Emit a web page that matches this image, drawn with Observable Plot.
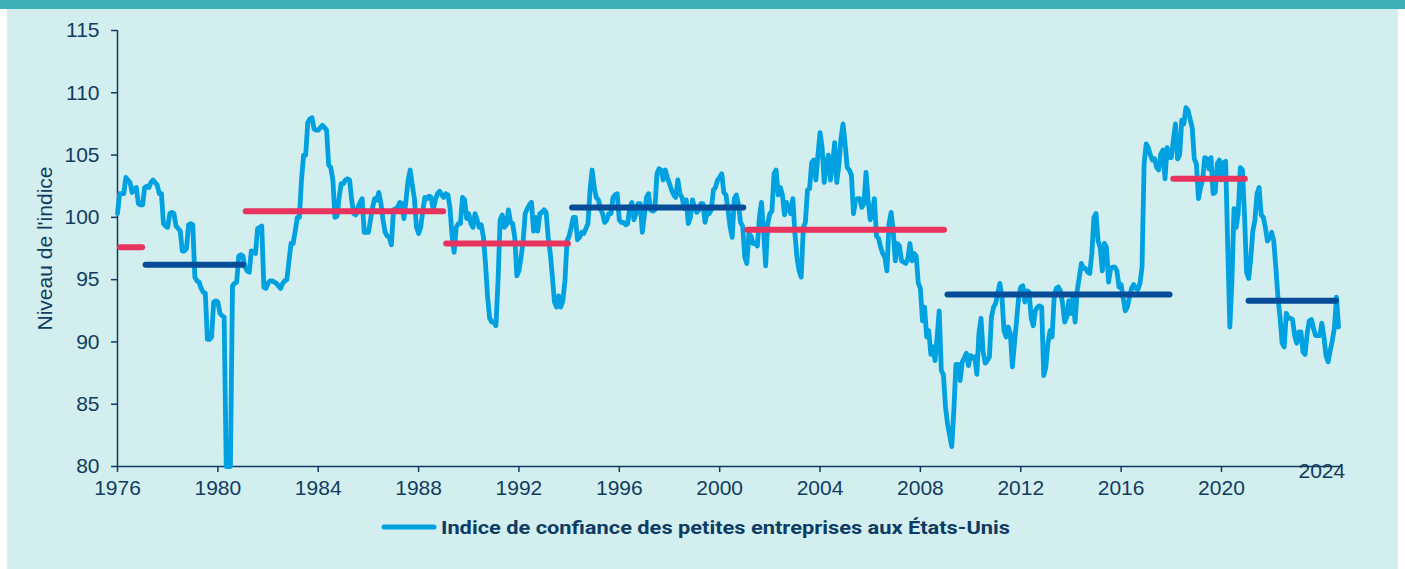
<!DOCTYPE html>
<html>
<head>
<meta charset="utf-8">
<script src="https://cdn.jsdelivr.net/npm/d3@7"></script>
<script src="https://cdn.jsdelivr.net/npm/@observablehq/plot@0.6"></script>
<style>
  html, body { margin: 0; padding: 0; background: #ffffff; width: 1405px; height: 569px; overflow: hidden; }
  #topbar { position: absolute; left: 0; top: 0; width: 1405px; height: 9px; background: #38b0b5; }
  #panel { position: absolute; left: 7px; top: 9px; width: 1391px; height: 560px; background: #d2eeee; }
  #chart { position: absolute; left: 0; top: 0; }
  #legend { position: absolute; left: 378px; top: 515px; }
</style>
</head>
<body>
<div id="topbar"></div>
<div id="panel"></div>
<div id="chart"></div>
<div id="legend"></div>
<script>
// Monthly index values, starting January 1976
const startYear = 1976;
const monthlyIndex = [
  100.3, 101.9, 101.9, 101.9, 103.2, 103.0, 102.8, 102.0, 102.3, 102.4, 101.1, 101.0, // 1976
  101.0, 102.4, 102.5, 102.4, 102.8, 103.0, 102.8, 102.6, 101.9, 101.9, 99.5, 99.3,   // 1977
  99.2, 100.3, 100.4, 100.3, 99.3, 99.1, 98.9, 97.3, 97.3, 97.5, 99.4, 99.5,          // 1978
  99.4, 95.2, 94.9, 94.8, 94.3, 94.0, 93.9, 90.2, 90.2, 90.4, 93.2, 93.3,             // 1979
  93.2, 92.3, 92.1, 92.0, 80.0, 80.0, 80.0, 94.5, 94.7, 94.8, 96.9, 97.0,             // 1980
  96.9, 96.0, 95.7, 95.6, 97.3, 97.2, 97.1, 99.1, 99.2, 99.3, 94.4, 94.3,             // 1981
  94.7, 94.9, 94.9, 94.8, 94.7, 94.5, 94.3, 94.7, 94.9, 95.0, 96.5, 97.9,             // 1982
  97.9, 98.9, 100.0, 100.0, 103.0, 105.0, 105.0, 107.6, 107.9, 108.0, 107.1, 107.0,   // 1983
  107.0, 107.2, 107.4, 107.2, 107.0, 104.2, 104.0, 103.0, 100.0, 100.1, 101.6, 102.7, // 1984
  102.7, 103.0, 103.1, 103.0, 101.4, 100.3, 100.2, 100.8, 101.2, 101.5, 98.8, 98.8,   // 1985
  98.8, 99.8, 100.8, 101.5, 101.4, 102.0, 101.1, 99.8, 98.8, 98.5, 98.4, 97.8,        // 1986
  100.6, 100.7, 100.8, 101.2, 101.1, 99.9, 101.4, 103.0, 103.8, 102.6, 101.5, 99.2,   // 1987
  98.7, 99.2, 100.5, 101.6, 101.5, 101.7, 101.6, 100.6, 101.4, 101.9, 102.1, 101.8,   // 1988
  101.6, 101.9, 101.8, 100.8, 98.5, 97.2, 99.2, 99.5, 99.5, 101.6, 101.4, 99.9,       // 1989
  100.3, 99.5, 99.2, 100.3, 99.8, 99.2, 99.4, 98.4, 96.3, 93.6, 91.9, 91.6,           // 1990
  91.6, 91.3, 94.9, 99.8, 100.2, 99.2, 99.4, 100.6, 99.6, 99.5, 98.4, 95.3,           // 1991
  95.7, 96.8, 98.1, 100.3, 100.7, 101.0, 101.2, 98.9, 100.0, 98.9, 100.3, 100.4,      // 1992
  100.6, 100.4, 98.4, 97.1, 95.2, 93.2, 92.8, 93.7, 92.8, 93.3, 94.9, 98.1,           // 1993
  98.5, 99.2, 100.0, 100.0, 98.2, 98.4, 98.8, 98.7, 99.1, 99.5, 102.2, 103.8,         // 1994
  102.4, 101.6, 101.4, 100.7, 100.3, 99.6, 99.8, 100.3, 100.3, 101.6, 101.8, 101.9,   // 1995
  99.8, 99.6, 99.6, 99.4, 99.5, 100.8, 101.2, 99.8, 100.3, 101.1, 101.1, 98.8,        // 1996
  100.2, 101.6, 101.9, 100.6, 100.5, 100.6, 103.5, 103.9, 103.8, 103.0, 103.8, 103.2, // 1997
  102.7, 102.2, 101.8, 101.6, 103.0, 101.9, 101.6, 100.7, 101.4, 99.5, 100.0, 101.4,  // 1998
  100.8, 100.4, 100.6, 101.1, 101.1, 99.6, 100.4, 100.3, 100.6, 102.2, 102.4, 103.0,  // 1999
  103.2, 103.5, 102.0, 101.8, 100.6, 99.2, 98.4, 101.5, 101.8, 101.0, 99.6, 99.3,     // 2000
  96.8, 96.3, 98.7, 98.5, 97.9, 97.9, 97.7, 100.0, 101.2, 98.9, 96.1, 99.5,           // 2001
  100.3, 100.5, 103.5, 103.8, 101.8, 102.4, 101.8, 100.2, 101.2, 100.8, 100.3, 101.5, // 2002
  98.7, 96.7, 95.7, 95.2, 99.2, 99.6, 102.2, 102.3, 104.4, 104.6, 103.0, 105.0,       // 2003
  106.8, 105.6, 102.8, 104.3, 105.0, 103.0, 104.3, 106.0, 102.8, 104.2, 106.3, 107.5, // 2004
  105.9, 104.0, 103.8, 103.4, 100.3, 101.4, 101.5, 101.5, 100.8, 101.1, 103.6, 101.4, // 2005
  99.8, 100.3, 101.5, 98.5, 98.3, 97.6, 97.1, 96.8, 95.7, 99.5, 100.4, 98.9,          // 2006
  96.5, 97.9, 97.7, 96.5, 96.4, 96.3, 96.7, 97.9, 96.5, 97.1, 96.9, 94.7,             // 2007
  94.3, 91.7, 92.8, 90.4, 90.9, 89.0, 89.6, 88.5, 90.4, 92.5, 87.7, 87.4,             // 2008
  84.8, 83.4, 82.5, 81.6, 84.5, 88.2, 88.2, 86.9, 88.4, 88.7, 89.1, 88.1,             // 2009
  88.9, 88.7, 88.8, 87.4, 90.7, 91.9, 89.2, 88.3, 88.5, 88.8, 92.0, 92.8,             // 2010
  93.1, 93.9, 94.7, 93.6, 90.9, 90.4, 91.2, 90.7, 88.0, 89.9, 91.7, 93.6,             // 2011
  94.4, 94.5, 93.2, 94.1, 94.0, 91.9, 91.3, 92.5, 92.8, 92.9, 92.8, 87.3,             // 2012
  88.0, 89.9, 90.9, 90.4, 93.7, 94.3, 94.4, 94.1, 93.1, 91.6, 92.0, 93.3,             // 2013
  92.3, 93.6, 91.6, 94.1, 95.2, 96.3, 95.9, 95.9, 95.6, 95.5, 97.1, 100.0,            // 2014
  100.3, 98.1, 97.6, 95.7, 97.9, 97.6, 94.8, 95.9, 96.0, 96.0, 95.7, 94.4,            // 2015
  94.6, 93.5, 92.5, 92.8, 93.6, 94.3, 94.6, 94.3, 94.2, 94.7, 96.0, 104.3,            // 2016
  105.9, 105.6, 105.0, 104.6, 104.7, 104.0, 103.8, 105.1, 105.4, 103.1, 105.6, 104.8, // 2017
  104.8, 106.2, 107.5, 104.7, 105.0, 107.8, 107.5, 108.8, 108.6, 107.9, 107.2, 104.7, // 2018
  104.3, 101.5, 102.4, 103.0, 104.8, 104.7, 103.9, 104.8, 101.9, 102.0, 104.3, 104.6, // 2019
  103.0, 104.4, 104.5, 97.6, 91.2, 94.9, 100.7, 99.2, 100.3, 104.0, 103.8, 100.3,     // 2020
  95.6, 95.1, 96.7, 98.9, 99.8, 101.9, 102.4, 100.2, 100.0, 99.2, 98.1, 98.4,         // 2021
  98.8, 98.1, 96.0, 93.6, 92.0, 89.9, 89.6, 92.3, 91.9, 91.9, 91.8, 90.5,             // 2022
  89.9, 90.8, 90.8, 89.2, 89.0, 90.7, 91.7, 91.8, 91.1, 90.5, 90.5, 90.5,             // 2023
  91.5, 90.4, 88.9, 88.4, 89.3, 90.1, 91.1, 93.6, 91.2                                // 2024
];

// Average level per presidential period
const periodStart = [1976.12, 1977.14, 1981.13, 1989.12, 1994.14, 2001.12, 2009.10, 2018.10, 2021.10];
const periodEnd   = [1977.00, 1981.02, 1989.00, 1993.97, 2000.96, 2008.96, 2017.95, 2020.95, 2024.58];
const periodMean  = [97.6, 96.2, 100.5, 97.9, 100.8, 99.0, 93.8, 103.1, 93.3];
const periodParty = ["R", "D", "R", "R", "D", "R", "D", "R", "D"];

const xTicks = [1976, 1980, 1984, 1988, 1992, 1996, 2000, 2004, 2008, 2012, 2016, 2020];
const xLastLabel = ["2024"];
const yTicks = [80, 85, 90, 95, 100, 105, 110, 115];
const yLabel = "Niveau de l'indice";
const seriesName = "Indice de confiance des petites entreprises aux États-Unis";

const lineColor = "#00a1e0";
const partyColor = {R: "#e8335f", D: "#074c99"};
const ink = "#113c60";

const series = monthlyIndex.map((v, i) => ({t: startYear + i / 12, v}));
const periods = periodMean.map((m, i) => ({x1: periodStart[i], x2: periodEnd[i], y: m, party: periodParty[i]}));

const chart = Plot.plot({
  width: 1405,
  height: 500,
  marginLeft: 117,
  marginRight: 65.6,
  marginTop: 30,
  marginBottom: 34,
  style: {background: "transparent", fontFamily: "'Liberation Sans', Arial, sans-serif", fontSize: "21px", color: ink, overflow: "visible"},
  x: {domain: [1976, 2024.72]},
  y: {domain: [80, 115]},
  marks: [
    Plot.axisY({ticks: yTicks, tickSize: 6, tickPadding: 12, tickFormat: d => String(d), label: null, stroke: ink, strokeWidth: 1.5, fontSize: 21}),
    Plot.axisX({ticks: xTicks, tickSize: 6, tickPadding: 8, tickFormat: d => String(d), label: null, stroke: ink, strokeWidth: 1.5, fontSize: 21}),
    Plot.ruleX([1976], {y1: 80, y2: 115, stroke: ink, strokeWidth: 1.5}),
    Plot.ruleY([80], {stroke: ink, strokeWidth: 1.5}),
    Plot.text(xLastLabel, {x: () => 2024, y: () => 80, text: d => d, dy: 5, fill: ink, fontSize: 21}),
    Plot.text([yLabel], {frameAnchor: "left", textAnchor: "middle", rotate: -90, dx: -72, text: d => d, fill: ink, fontSize: 21}),
    Plot.line(series, {x: "t", y: "v", stroke: lineColor, strokeWidth: 4.8, strokeLinejoin: "round", strokeLinecap: "round"}),
    Plot.ruleY(periods, {x1: "x1", x2: "x2", y: "y", stroke: d => partyColor[d.party], strokeWidth: 6, strokeLinecap: "round"})
  ]
});
document.getElementById("chart").appendChild(chart);

// Legend
const lg = d3.select("#legend").append("svg").attr("width", 660).attr("height", 26);
lg.append("line").attr("x1", 6).attr("x2", 56).attr("y1", 12).attr("y2", 12)
  .attr("stroke", lineColor).attr("stroke-width", 5).attr("stroke-linecap", "round");
lg.append("text").attr("x", 63).attr("y", 18.5)
  .attr("font-family", "Roboto, 'Liberation Sans', sans-serif").attr("font-weight", 700).attr("font-size", 19)
  .attr("fill", "#0d3b63").attr("textLength", 569).attr("lengthAdjust", "spacingAndGlyphs")
  .text(seriesName);
</script>
</body>
</html>
